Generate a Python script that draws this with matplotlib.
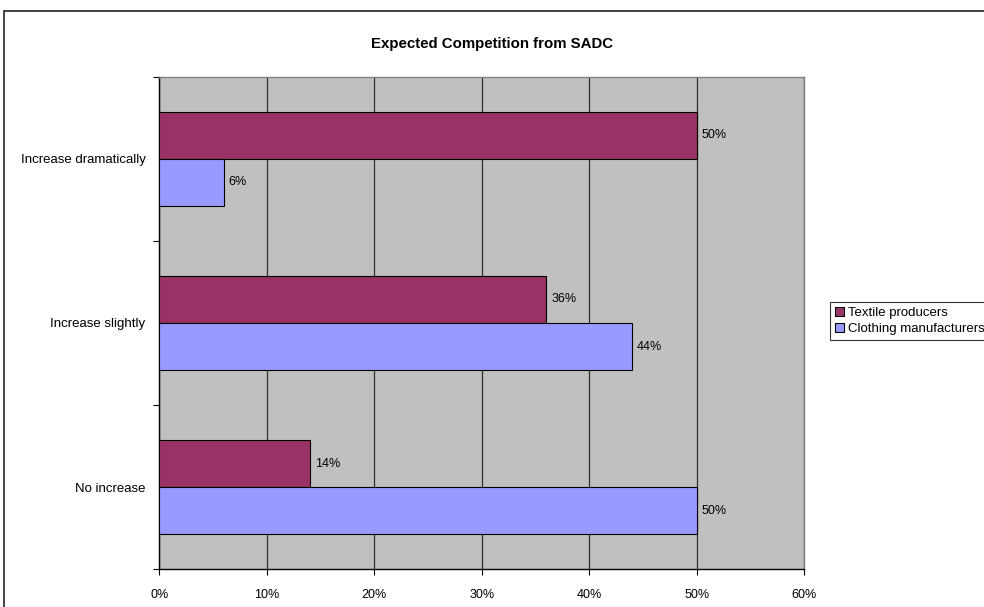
import numpy as np
import matplotlib.pyplot as plt
from matplotlib.patches import Rectangle
from matplotlib.ticker import FixedLocator

plt.rcParams['font.family'] = ['Liberation Sans', 'DejaVu Sans']

# data
categories = ['Increase dramatically', 'Increase slightly', 'No increase']
textile = [50, 36, 14]
clothing = [6, 44, 50]
series_names = ['Textile producers', 'Clothing manufacturers']
colors = ['#993366', '#9999FF']
xticks = [0, 10, 20, 30, 40, 50, 60]

fig = plt.figure(figsize=(9.84, 6.07), dpi=100)
ax = fig.add_axes([159.3 / 984, 1 - 569.3 / 607, (804.3 - 159.3) / 984, (569.3 - 76.7) / 607])
ax.set_facecolor('#C0C0C0')

y = np.arange(len(categories))[::-1]
h = 0.287
b1 = ax.barh(y + h / 2, textile, height=h, color=colors[0], edgecolor='black', linewidth=0.8,
             label=series_names[0], zorder=3)
b2 = ax.barh(y - h / 2, clothing, height=h, color=colors[1], edgecolor='black', linewidth=0.8,
             label=series_names[1], zorder=3)

for bars, vals in ((b1, textile), (b2, clothing)):
    for bar, v in zip(bars, vals):
        ax.text(v + 0.45, bar.get_y() + bar.get_height() / 2, f'{v}%',
                va='center', ha='left', fontsize=9, zorder=4)

ax.set_xlim(0, 60)
ax.set_ylim(-0.5, 2.5)
ax.set_xticks(xticks)
ax.set_xticklabels([f'{t}%' for t in xticks], fontsize=9)
ax.xaxis.grid(True, color='#303030', linewidth=0.9, zorder=1)
ax.tick_params(axis='x', direction='out', length=4, width=0.8, pad=10)

ax.set_yticks(y)
ax.set_yticklabels(categories, fontsize=9.5)
ax.tick_params(axis='y', which='major', length=0, pad=10)
ax.yaxis.set_minor_locator(FixedLocator([-0.5, 0.5, 1.5, 2.5]))
ax.tick_params(axis='y', which='minor', direction='out', length=4, width=0.8)

for side in ('top', 'right'):
    ax.spines[side].set_color('#808080')
    ax.spines[side].set_linewidth(1.0)
for side in ('left', 'bottom'):
    ax.spines[side].set_color('black')
    ax.spines[side].set_linewidth(1.0)

fig.text(0.5, 1 - 44 / 607, 'Expected Competition from SADC', ha='center', va='center',
         fontsize=10.8, fontweight='bold')

leg = fig.legend(handles=[b1, b2], loc='upper left', bbox_to_anchor=(830 / 984, 1 - 302 / 607),
                 fontsize=9.5, frameon=True, fancybox=False, edgecolor='black',
                 handlelength=0.7, handleheight=0.7, handletextpad=0.3,
                 borderpad=0.35, labelspacing=0.3, borderaxespad=0)
leg.get_frame().set_linewidth(0.8)

# outer chart frame
fig.patches.append(Rectangle((4 / 984, -0.1), 1.2, 1.1 - 10.7 / 607, transform=fig.transFigure,
                             fill=False, edgecolor='#222222', linewidth=1.2))

fig.savefig('out.png', dpi=100)
